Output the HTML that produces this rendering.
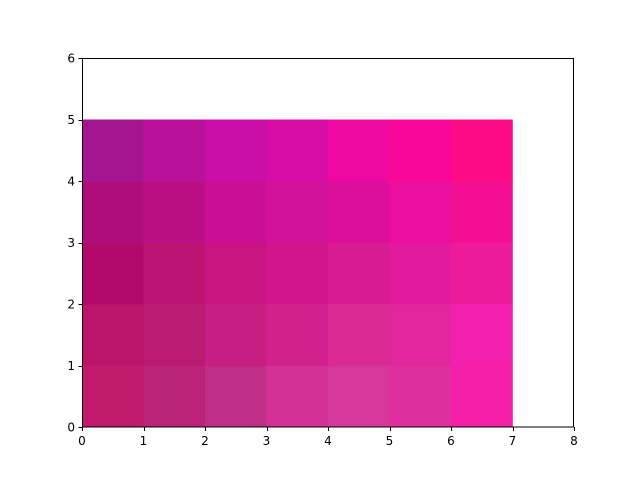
<!DOCTYPE html>
<html><head><meta charset="utf-8"><style>
html,body{margin:0;padding:0;background:#fff;}
svg{display:block;font-family:"DejaVu Sans","Liberation Sans",sans-serif;}
</style></head><body>
<svg id="chart" width="640" height="480" xmlns="http://www.w3.org/2000/svg">
<rect width="640" height="480" fill="#fff"/>
<g id="cells"></g>
<rect x="82.5" y="58.5" width="491" height="368.5" fill="none" stroke="#000" stroke-width="1"/>
<g id="xticks"></g>
<g id="yticks"></g>
</svg>
<script>
const xTicks = [0,1,2,3,4,5,6,7,8];
const yTicks = [0,1,2,3,4,5,6];
// rows from y=0 (bottom) to y=4 (top), columns x=0..6
const row0 = ["#c21b6e","#bb2378","#bf2f88","#d43196","#d6379b","#de2f9f","#f41ea7"];
const row1 = ["#bb146b","#ba1a70","#c81d83","#d3208f","#d92b93","#e1279b","#f41fae"];
const row2 = ["#b3096a","#bc1272","#ca1484","#d1168c","#d71b93","#e31aa0","#ee1a9c"];
const row3 = ["#ad0e7c","#bc0e84","#cb0f95","#d2119a","#dc0f9b","#ec0fa0","#f40e92"];
const row4 = ["#a4168f","#ba119a","#cb0ea8","#d90ba7","#ef09a2","#f80697","#fd0a87"];
const rows = [row0,row1,row2,row3,row4];
const NS="http://www.w3.org/2000/svg";
const X0=82,X1=574,Y0=427,Y1=58;
const sx=v=>X0+(v-0)/(8-0)*(X1-X0);
const sy=v=>Y0-(v-0)/(6-0)*(Y0-Y1);
const cells=document.getElementById('cells');
rows.forEach((r,j)=>r.forEach((c,i)=>{
  const e=document.createElementNS(NS,'rect');
  e.setAttribute('x',sx(i));e.setAttribute('y',sy(j+1));
  e.setAttribute('width',sx(i+1)-sx(i)+0.3);e.setAttribute('height',sy(j)-sy(j+1)+0.3);
  e.setAttribute('fill',c);
  
  
  cells.appendChild(e);
}));
const xg=document.getElementById('xticks');
xTicks.forEach(t=>{
  const l=document.createElementNS(NS,'line');
  const px=Math.round(sx(t))+0.5;
  l.setAttribute('x1',px);l.setAttribute('x2',px);l.setAttribute('y1',Y0);l.setAttribute('y2',Y0+4);l.setAttribute('stroke','#000');
  
  
  xg.appendChild(l);
  const s=document.createElementNS(NS,'text');
  s.setAttribute('x',sx(t));s.setAttribute('y',Y0+18);s.setAttribute('text-anchor','middle');s.setAttribute('font-size','12');
  s.textContent=t;
  
  
  xg.appendChild(s);
});
const yg=document.getElementById('yticks');
yTicks.forEach(t=>{
  const l=document.createElementNS(NS,'line');
  const py=Math.round(sy(t))+0.5;
  l.setAttribute('x1',X0-3.5);l.setAttribute('x2',X0);l.setAttribute('y1',py);l.setAttribute('y2',py);l.setAttribute('stroke','#000');
  
  
  yg.appendChild(l);
  const s=document.createElementNS(NS,'text');
  s.setAttribute('x',X0-7);s.setAttribute('y',sy(t)+4.5);s.setAttribute('text-anchor','end');s.setAttribute('font-size','12');
  s.textContent=t;
  
  
  yg.appendChild(s);
});
</script>
</body></html>
